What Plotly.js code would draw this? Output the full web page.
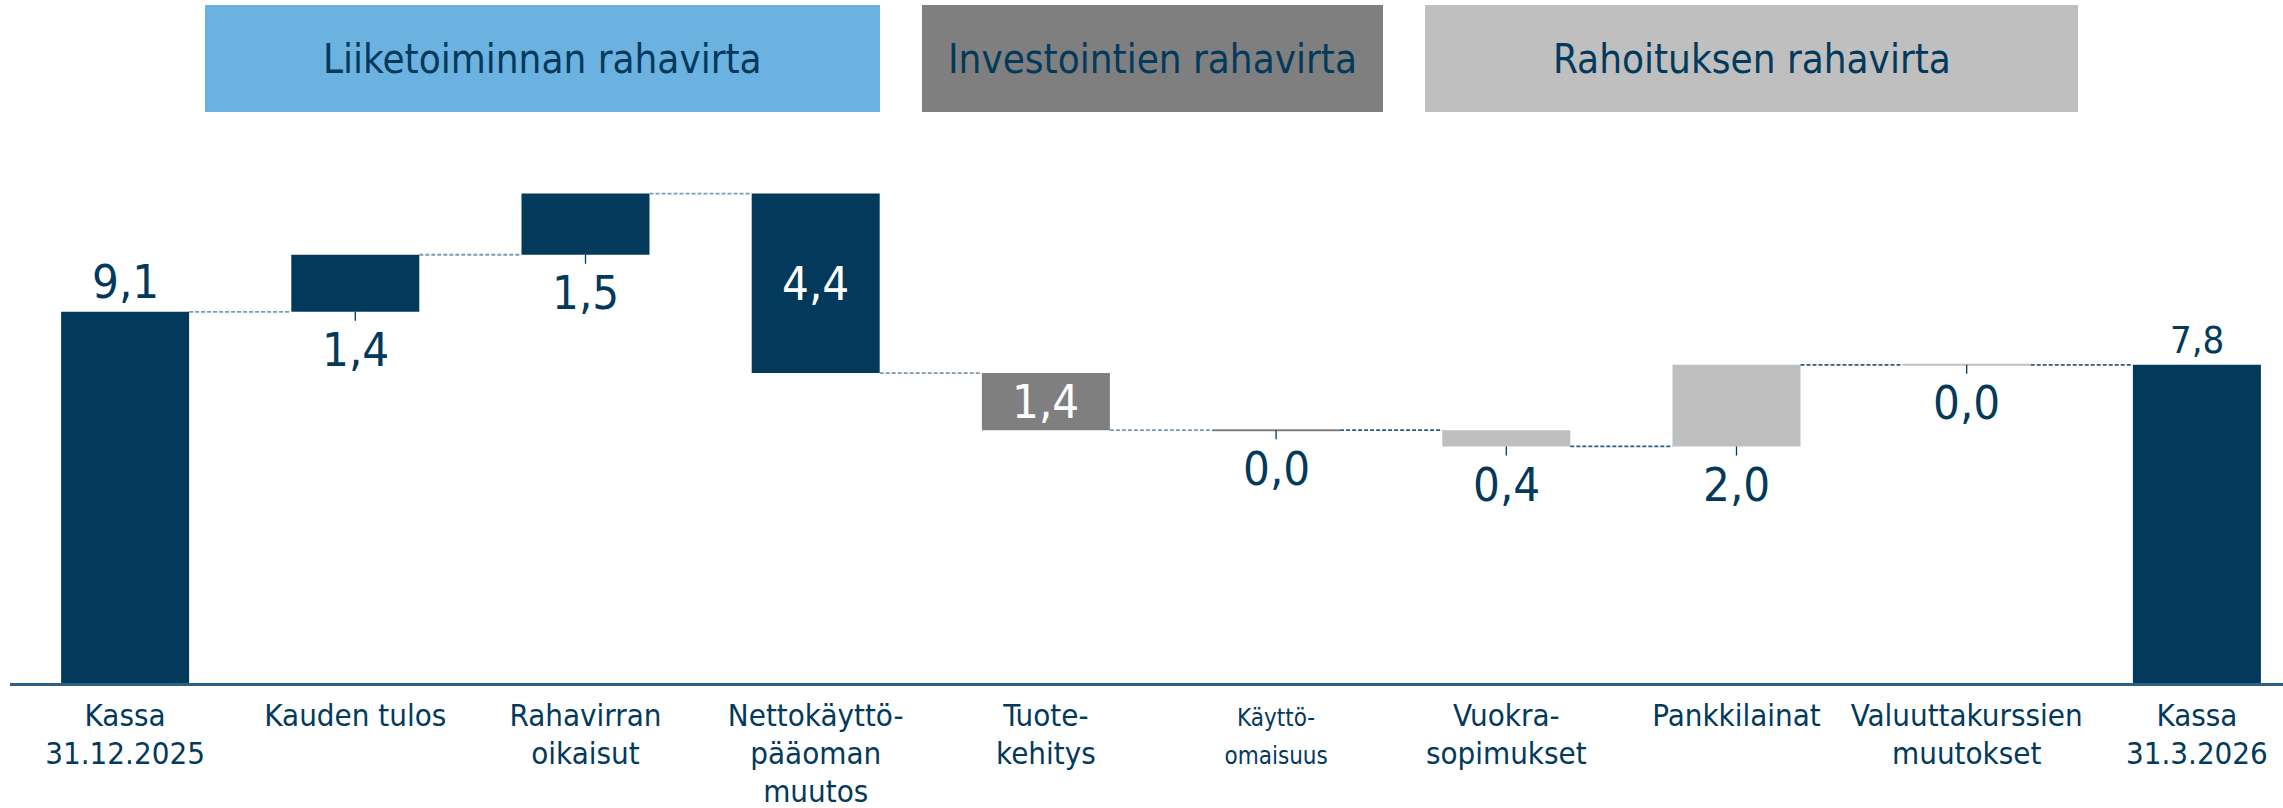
<!DOCTYPE html>
<html>
<head>
<meta charset="utf-8">
<script src="https://cdn.plot.ly/plotly-3.0.1.min.js"></script>
<style>
  html, body { margin: 0; padding: 0; background: #ffffff; }
  #chart { width: 2283px; height: 808px; }
</style>
</head>
<body>
<div id="chart"></div>
<script>
// ---- Data ----
const categories = [
  'Kassa<br>31.12.2025',
  'Kauden tulos',
  'Rahavirran<br>oikaisut',
  'Nettokäyttö-<br>pääoman<br>muutos',
  'Tuote-<br>kehitys',
  'Käyttö-<br>omaisuus',
  'Vuokra-<br>sopimukset',
  'Pankkilainat',
  'Valuuttakurssien<br>muutokset',
  'Kassa<br>31.3.2026'
];
const values = [9.1, 1.4, 1.5, -4.4, -1.4, 0.0, -0.4, 2.0, 0.0, 7.8];
const measures = ['total', 'relative', 'relative', 'relative', 'relative', 'relative', 'relative', 'relative', 'relative', 'total'];
const groups = ['kassa', 'liike', 'liike', 'liike', 'inv', 'inv', 'rah', 'rah', 'rah', 'kassa'];
const sections = ['Liiketoiminnan rahavirta', 'Investointien rahavirta', 'Rahoituksen rahavirta'];

// ---- Styles ----
const NAVY = '#033a5c';
const groupColors = { kassa: NAVY, liike: NAVY, inv: '#7f7f7f', rah: '#bfbfbf' };
const sectionColors = ['#6cb2e0', '#7f7f7f', '#bfbfbf'];
const labelPlacement = ['above', 'below', 'below', 'inside', 'inside', 'below', 'below', 'below', 'below', 'above'];
const labelSizes = [47, 47, 47, 47, 47, 47, 47, 47, 47, 38];
const smallTicks = [5];
const FONT = 'DejaVu Sans Condensed, DejaVu Sans, sans-serif';
const BAR_W = 0.556;

// ---- Waterfall geometry from data ----
const xs = categories.map((_, i) => i);
const starts = [], ends = [];
let running = 0;
values.forEach((v, i) => {
  if (measures[i] === 'total') { starts.push(0); ends.push(v); running = v; }
  else { starts.push(running); running += v; ends.push(running); }
});
const bases = starts;
const barColors = groups.map(g => groupColors[g]);
const fmt = v => Math.abs(v).toFixed(1).replace('.', ',');

const traces = [];
traces.push({
  type: 'bar', x: xs, y: values, base: bases, width: BAR_W,
  marker: { color: barColors, line: { width: 0 } },
  hoverinfo: 'skip', showlegend: false
});

// connectors
for (let i = 0; i < values.length - 1; i++) {
  const lvl = ends[i];
  traces.push({
    type: 'scatter', mode: 'lines',
    x: [xs[i] + BAR_W / 2, xs[i + 1] - BAR_W / 2], y: [lvl, lvl],
    line: { color: i < 5 ? '#7d99ae' : '#2d5c80', width: 1.8, dash: '4px,2px' },
    hoverinfo: 'skip', showlegend: false
  });
}
// zero-value bars drawn as thin lines
values.forEach((v, i) => {
  if (v === 0) {
    traces.push({
      type: 'scatter', mode: 'lines',
      x: [xs[i] - BAR_W / 2, xs[i] + BAR_W / 2], y: [ends[i], ends[i]],
      line: { color: barColors[i], width: 2 },
      hoverinfo: 'skip', showlegend: false
    });
  }
});

// ---- Layout ----
const W = 2283, H = 808, ML = 10, MR = 0, MT = 112, MB = 125;
const plotW = W - ML - MR, plotH = H - MT - MB;
const px2paperX = p => (p - ML) / plotW;
const px2paperY = p => (H - MB - p) / plotH;
const headerBoxes = [[205, 880], [922, 1383], [1425, 2078]];
const headerTop = 5, headerBottom = 112;

const shapes = headerBoxes.map((b, k) => ({
  type: 'rect', xref: 'paper', yref: 'paper',
  x0: px2paperX(b[0]), x1: px2paperX(b[1]),
  y0: px2paperY(headerBottom), y1: px2paperY(headerTop),
  fillcolor: sectionColors[k], line: { width: 0 }, layer: 'above'
}));

const annotations = headerBoxes.map((b, k) => ({
  xref: 'paper', yref: 'paper',
  x: px2paperX((b[0] + b[1]) / 2), y: px2paperY((headerTop + headerBottom) / 2),
  text: sections[k], showarrow: false, xanchor: 'center', yanchor: 'middle',
  font: { family: FONT, size: 40, color: NAVY }
}));

values.forEach((v, i) => {
  const top = Math.max(starts[i], ends[i]);
  const bot = Math.min(starts[i], ends[i]);
  const place = labelPlacement[i];
  const base = { xref: 'x', yref: 'y', x: xs[i], text: fmt(v) };
  if (place === 'above') {
    annotations.push(Object.assign(base, {
      y: top, showarrow: false, yanchor: 'bottom', yshift: 1,
      font: { family: FONT, size: labelSizes[i], color: NAVY }
    }));
  } else if (place === 'inside') {
    annotations.push(Object.assign(base, {
      y: (top + bot) / 2, showarrow: false, yanchor: 'middle',
      font: { family: FONT, size: labelSizes[i], color: '#ffffff' }
    }));
  } else {
    annotations.push(Object.assign(base, {
      y: bot, showarrow: true, arrowhead: 0, arrowwidth: 1.3, arrowcolor: NAVY,
      ax: 0, ay: 38,
      font: { family: FONT, size: labelSizes[i], color: NAVY }
    }));
  }
});

// tick text: inner spans set the glyph size, the tick font sets the line spacing
const tickText = categories.map((c, i) => {
  const sz = smallTicks.includes(i) ? 24 : 31;
  return c.split('<br>').map(s => '<span style="font-size:' + sz + 'px">' + s + '</span>').join('<br>');
});

const layout = {
  width: W, height: H,
  margin: { l: ML, r: MR, t: MT, b: MB, pad: 0 },
  paper_bgcolor: '#ffffff', plot_bgcolor: '#ffffff',
  showlegend: false, hovermode: false, barmode: 'overlay',
  font: { family: FONT, color: NAVY },
  xaxis: {
    range: [-0.5, -0.5 + plotW / 230.2], tickmode: 'array', tickvals: xs, ticktext: tickText,
    tickfont: { family: FONT, size: 29, color: NAVY }, ticks: '',
    showline: true, linecolor: '#2f5f82', linewidth: 2.5,
    showgrid: false, zeroline: false, fixedrange: true, ticklabelstandoff: 6
  },
  yaxis: { range: [0, 14], visible: false, showgrid: false, zeroline: false, fixedrange: true },
  shapes: shapes,
  annotations: annotations
};

Plotly.newPlot('chart', traces, layout, { staticPlot: true, displayModeBar: false });
</script>
</body>
</html>
